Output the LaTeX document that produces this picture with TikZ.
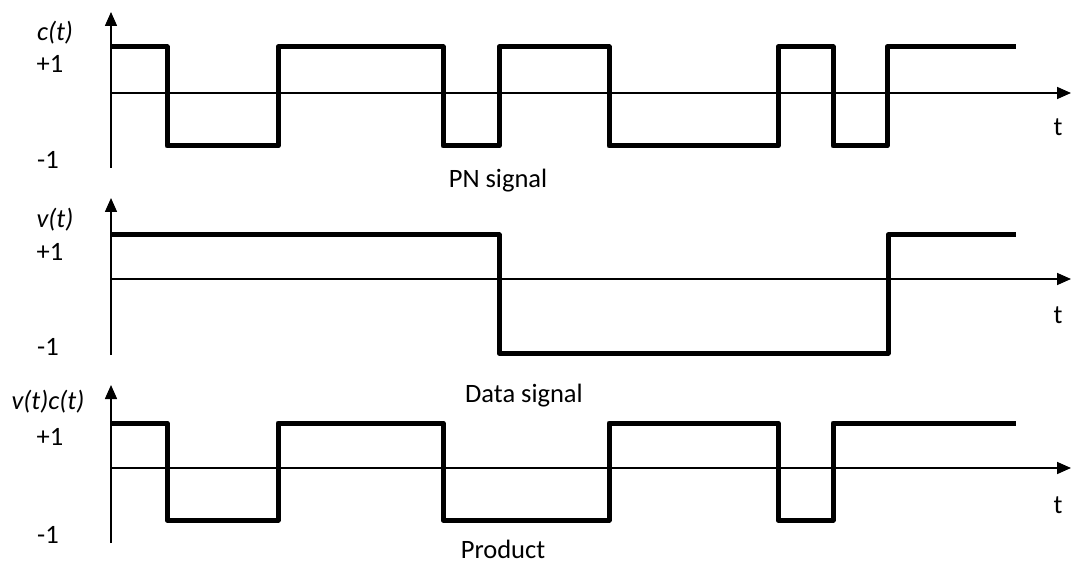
\documentclass[tikz,border=0pt]{standalone}
\usepackage{fontspec}
\setmainfont{Carlito}
\usetikzlibrary{arrows.meta}
\begin{document}
\begin{tikzpicture}[x=1pt,y=-1pt,
  axisline/.style={line width=1.6pt,-{Triangle[length=14pt,width=12pt]}},
  wave/.style={line width=5pt,line join=round},
  lbl/.style={font=\fontsize{26.5}{28}\selectfont,inner sep=0pt},
  ilbl/.style={font=\fontsize{26.5}{28}\selectfont\itshape,inner sep=0pt}]
\useasboundingbox (0,0) rectangle (1071,564);

% ---------- c(t): PN signal ----------
\coordinate (a1b) at (111,168);
\coordinate (a1t) at (111,12);
\coordinate (z1l) at (111,93);
\coordinate (z1r) at (1071,93);
\draw[axisline] (a1b) -- (a1t);
\draw[axisline] (z1l) -- (z1r);
\draw[wave] (111,47) -- (167,47) -- (167,146) -- (278,146) -- (278,47)
  -- (443,47) -- (443,146) -- (499,146) -- (499,47) -- (609,47)
  -- (609,146) -- (778,146) -- (778,47) -- (833,47) -- (833,146)
  -- (887,146) -- (887,47) -- (1016,47);
\node[ilbl] (c1) at (55,33) {c(t)};
\node[lbl] (p1) at (50,64) {+1};
\node[lbl] (m1) at (48,160) {-1};
\node[lbl] (t1) at (1058,127) {t};
\node[lbl] (n1) at (498,181) {PN signal};

% ---------- v(t): data signal ----------
\coordinate (a2b) at (111,355);
\coordinate (a2t) at (111,198);
\coordinate (z2l) at (111,279);
\coordinate (z2r) at (1071,279);
\draw[axisline] (a2b) -- (a2t);
\draw[axisline] (z2l) -- (z2r);
\draw[wave] (111,235) -- (499,235) -- (499,353) -- (888,353) -- (888,235)
  -- (1016,235);
\node[ilbl] (c2) at (55,220) {v(t)};
\node[lbl] (p2) at (50,252) {+1};
\node[lbl] (m2) at (48,347) {-1};
\node[lbl] (t2) at (1058,315) {t};
\node[lbl] (n2) at (524,396) {Data signal};

% ---------- v(t)c(t): product ----------
\coordinate (a3b) at (111,543);
\coordinate (a3t) at (111,385);
\coordinate (z3l) at (111,468);
\coordinate (z3r) at (1071,468);
\draw[axisline] (a3b) -- (a3t);
\draw[axisline] (z3l) -- (z3r);
\draw[wave] (111,423) -- (167,423) -- (167,520) -- (278,520) -- (278,423)
  -- (443,423) -- (443,520) -- (609,520) -- (609,423) -- (778,423)
  -- (778,520) -- (833,520) -- (833,423) -- (1016,423);
\node[ilbl] (c3) at (48,402) {v(t)c(t)};
\node[lbl] (p3) at (50,437) {+1};
\node[lbl] (m3) at (48,535) {-1};
\node[lbl] (t3) at (1058,505) {t};
\node[lbl] (n3) at (503,549) {Product};
\end{tikzpicture}
\end{document}
